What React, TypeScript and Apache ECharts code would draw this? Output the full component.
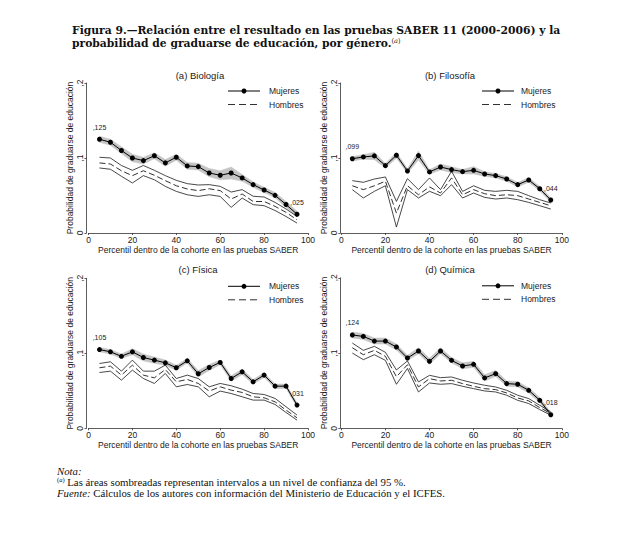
import React, { useEffect, useRef } from 'react';
import * as echarts from 'echarts';

// ---------- data ----------
const percentiles = [5, 10, 15, 20, 25, 30, 35, 40, 45, 50, 55, 60, 65, 70, 75, 80, 85, 90, 95];
const xTicks = [0, 20, 40, 60, 80, 100];
const yTicks = [0, 0.1, 0.2];

// (a) Biología
const bioMujeres = [0.125, 0.121, 0.110, 0.100, 0.0965, 0.103, 0.0935, 0.101, 0.0894, 0.0885, 0.080, 0.077, 0.080, 0.0734, 0.0645, 0.0573, 0.0502, 0.038, 0.025];
const bioMujeresUp = [0.129, 0.125, 0.115, 0.105, 0.101, 0.107, 0.098, 0.105, 0.094, 0.093, 0.086, 0.083, 0.088, 0.078, 0.068, 0.061, 0.054, 0.042, 0.029];
const bioMujeresLo = [0.121, 0.117, 0.106, 0.095, 0.092, 0.099, 0.089, 0.097, 0.085, 0.084, 0.075, 0.071, 0.072, 0.069, 0.061, 0.054, 0.047, 0.034, 0.022];
const bioHombres = [0.0934, 0.092, 0.083, 0.0765, 0.083, 0.077, 0.0698, 0.063, 0.0587, 0.0565, 0.059, 0.0565, 0.0453, 0.052, 0.042, 0.042, 0.0355, 0.0275, 0.0176];
const bioHombresUp = [0.101, 0.100, 0.090, 0.0836, 0.090, 0.0836, 0.0765, 0.0702, 0.0658, 0.064, 0.0645, 0.0622, 0.0546, 0.0578, 0.049, 0.048, 0.0408, 0.032, 0.022];
const bioHombresLo = [0.0867, 0.085, 0.0756, 0.0667, 0.0765, 0.071, 0.0622, 0.0555, 0.051, 0.0488, 0.051, 0.0488, 0.0342, 0.0466, 0.0378, 0.0364, 0.030, 0.022, 0.0132];

// (b) Filosofía
const filMujeres = [0.099, 0.1014, 0.1028, 0.0898, 0.1037, 0.0827, 0.1032, 0.0814, 0.088, 0.0845, 0.0818, 0.0836, 0.0787, 0.0765, 0.072, 0.0645, 0.0707, 0.059, 0.044];
const filMujeresUp = [0.102, 0.1044, 0.1078, 0.0928, 0.1077, 0.0857, 0.1092, 0.0844, 0.092, 0.0885, 0.0848, 0.0886, 0.0817, 0.0795, 0.075, 0.0675, 0.0737, 0.062, 0.047];
const filMujeresLo = [0.096, 0.0984, 0.0978, 0.0868, 0.0997, 0.0797, 0.0972, 0.0784, 0.084, 0.0805, 0.0788, 0.0786, 0.0757, 0.0735, 0.069, 0.0615, 0.0677, 0.056, 0.041];
const filHombres = [0.063, 0.0578, 0.063, 0.069, 0.0266, 0.063, 0.051, 0.0615, 0.0533, 0.0734, 0.051, 0.0578, 0.0524, 0.0498, 0.051, 0.0498, 0.0453, 0.0408, 0.0364];
const filHombresUp = [0.0698, 0.0676, 0.072, 0.0747, 0.0422, 0.0725, 0.0578, 0.0734, 0.0578, 0.0823, 0.0555, 0.063, 0.0569, 0.0555, 0.0569, 0.0555, 0.0498, 0.0444, 0.040];
const filHombresLo = [0.0578, 0.0467, 0.0556, 0.063, 0.0079, 0.0578, 0.0467, 0.0556, 0.0497, 0.0645, 0.0467, 0.0533, 0.0475, 0.0453, 0.0467, 0.0444, 0.0408, 0.0364, 0.0319];

// (c) Física
const fisMujeres = [0.105, 0.102, 0.096, 0.102, 0.0944, 0.0909, 0.0873, 0.0807, 0.090, 0.0727, 0.0811, 0.0878, 0.0664, 0.0753, 0.062, 0.0709, 0.0562, 0.0562, 0.031];
const fisMujeresUp = [0.108, 0.105, 0.099, 0.106, 0.099, 0.095, 0.091, 0.084, 0.093, 0.077, 0.085, 0.091, 0.070, 0.079, 0.065, 0.074, 0.059, 0.059, 0.034];
const fisMujeresLo = [0.102, 0.099, 0.093, 0.098, 0.0898, 0.0868, 0.0836, 0.0774, 0.087, 0.0684, 0.0772, 0.0846, 0.0628, 0.0716, 0.059, 0.0678, 0.0532, 0.0532, 0.028];
const fisHombres = [0.0807, 0.0829, 0.0709, 0.0842, 0.0709, 0.0673, 0.0784, 0.062, 0.0651, 0.0598, 0.0496, 0.0553, 0.0509, 0.0478, 0.042, 0.0407, 0.0353, 0.0242, 0.014];
const fisHombresUp = [0.0864, 0.0887, 0.0762, 0.0909, 0.0762, 0.0762, 0.0842, 0.0664, 0.0709, 0.0664, 0.0553, 0.0598, 0.0567, 0.0522, 0.0464, 0.0451, 0.0398, 0.0287, 0.0176];
const fisHombresLo = [0.0744, 0.0762, 0.0642, 0.0776, 0.0664, 0.0598, 0.0731, 0.0553, 0.0584, 0.0553, 0.042, 0.0496, 0.0464, 0.042, 0.0376, 0.0376, 0.0318, 0.0211, 0.0109];

// (d) Química
const quiMujeres = [0.124, 0.1221, 0.1159, 0.1159, 0.108, 0.0934, 0.1027, 0.089, 0.1027, 0.0903, 0.0828, 0.085, 0.0669, 0.0726, 0.0594, 0.0585, 0.0505, 0.0372, 0.018];
const quiMujeresUp = [0.128, 0.126, 0.120, 0.120, 0.112, 0.097, 0.107, 0.093, 0.107, 0.094, 0.087, 0.089, 0.071, 0.077, 0.063, 0.062, 0.054, 0.041, 0.021];
const quiMujeresLo = [0.120, 0.118, 0.112, 0.112, 0.104, 0.090, 0.099, 0.085, 0.099, 0.087, 0.079, 0.081, 0.063, 0.069, 0.056, 0.055, 0.047, 0.034, 0.015];
const quiHombres = [0.1071, 0.0978, 0.1036, 0.0957, 0.0685, 0.0845, 0.055, 0.066, 0.0629, 0.0638, 0.0594, 0.0558, 0.0527, 0.0514, 0.047, 0.0403, 0.0364, 0.0275, 0.0196];
const quiHombresUp = [0.1133, 0.1036, 0.1089, 0.101, 0.0775, 0.0895, 0.0616, 0.0704, 0.0673, 0.0682, 0.0638, 0.0602, 0.0572, 0.0549, 0.0505, 0.0439, 0.0395, 0.0306, 0.0218];
const quiHombresLo = [0.1, 0.0912, 0.0978, 0.0903, 0.0585, 0.0795, 0.0483, 0.0602, 0.0585, 0.0594, 0.0558, 0.0527, 0.0496, 0.0483, 0.0439, 0.0372, 0.0329, 0.0249, 0.0174];

const panelTitles = ['(a) Biología', '(b) Filosofía', '(c) Física', '(d) Química'];
const legendNames = ['Mujeres', 'Hombres'];
const xAxisName = 'Percentil dentro de la cohorte en las pruebas SABER';
const yAxisName = 'Probabilidad de graduarse de educación';
const figTitle1 = 'Figura 9.—Relación entre el resultado en las pruebas SABER 11 (2000-2006) y la';
const figTitle2 = 'probabilidad de graduarse de educación, por género.';
const noteLines = [
  'Nota:',
  'Las áreas sombreadas representan intervalos a un nivel de confianza del 95 %.',
  'Fuente:',
  'Cálculos de los autores con información del Ministerio de Educación y el ICFES.',
];

const panelData = [
  { m: bioMujeres, mu: bioMujeresUp, ml: bioMujeresLo, h: bioHombres, hu: bioHombresUp, hl: bioHombresLo },
  { m: filMujeres, mu: filMujeresUp, ml: filMujeresLo, h: filHombres, hu: filHombresUp, hl: filHombresLo },
  { m: fisMujeres, mu: fisMujeresUp, ml: fisMujeresLo, h: fisHombres, hu: fisHombresUp, hl: fisHombresLo },
  { m: quiMujeres, mu: quiMujeresUp, ml: quiMujeresLo, h: quiHombres, hu: quiHombresUp, hl: quiHombresLo },
];

// ---------- layout ----------
const SANS = '"Liberation Sans", Arial, Helvetica, sans-serif';
const SERIF = '"Liberation Serif", "Times New Roman", serif';
const TITLE_SERIF = '"DejaVu Serif", "Liberation Serif", serif';
const panelBoxes = [
  { left: 88.5, top: 83, width: 219.5, height: 150, yOffset: 2, titleX: 200, titleY: 75, legX: 228, legTextX: 269 },
  { left: 341.3, top: 83, width: 220.5, height: 150, yOffset: 1, titleX: 450, titleY: 75, legX: 482, legTextX: 521 },
  { left: 88.5, top: 278.3, width: 219.5, height: 150, yOffset: 2, titleX: 198, titleY: 269.5, legX: 228, legTextX: 269 },
  { left: 341.3, top: 277.8, width: 220.5, height: 150.5, yOffset: 1, titleX: 450, titleY: 269.5, legX: 482, legTextX: 521 },
];

const INK = '#1a1a1a';
const BAND = '#c4c4c4';
const TITLE_SIZE = 10.75;
const NOTE_SIZE = 10.8;

function buildOption() {
  const series: any[] = [];
  const graphic: any[] = [];

  panelData.forEach((d, i) => {
    const lastIdx = percentiles.length - 1;
    const labelStyle = {
      show: true,
      position: 'top',
      distance: 6,
      fontSize: 7,
      color: INK,
      fontFamily: SANS,
      formatter: (p: any) => ',' + Number(p.value[1]).toFixed(3).slice(2),
    };
    // CI band (Mujeres) as one polygon through the axis scales
    series.push({
      type: 'custom',
      xAxisIndex: i,
      yAxisIndex: i,
      data: percentiles.map((p, k) => [p, d.ml[k], d.mu[k]]),
      encode: { x: 0, y: [1, 2] },
      silent: true,
      z: 1,
      renderItem: (params: any, api: any) => {
        if (params.dataIndex !== 0) return null;
        const top = percentiles.map((p, k) => api.coord([p, d.mu[k]]));
        const bottom = percentiles.map((p, k) => api.coord([p, d.ml[k]])).reverse();
        return {
          type: 'polygon',
          shape: { points: top.concat(bottom) },
          style: { fill: BAND, stroke: BAND, lineWidth: 0.5 },
        };
      },
    });
    // Hombres CI lines
    [d.hu, d.hl].forEach((arr) => {
      series.push({
        type: 'line',
        xAxisIndex: i,
        yAxisIndex: i,
        data: percentiles.map((p, k) => [p, arr[k]]),
        symbol: 'none',
        lineStyle: { color: INK, width: 0.8 },
        silent: true,
        z: 2,
      });
    });
    // Hombres point estimate (dashed)
    series.push({
      type: 'line',
      name: legendNames[1],
      xAxisIndex: i,
      yAxisIndex: i,
      data: percentiles.map((p, k) => [p, d.h[k]]),
      symbol: 'none',
      lineStyle: { color: INK, width: 0.9, type: [6, 3] },
      silent: true,
      z: 3,
    });
    // Mujeres point estimate
    series.push({
      type: 'line',
      name: legendNames[0],
      xAxisIndex: i,
      yAxisIndex: i,
      data: percentiles.map((p, k) => {
        const item: any = { value: [p, d.m[k]] };
        if (k === 0 || k === lastIdx) item.label = labelStyle;
        return item;
      }),
      symbol: 'circle',
      symbolSize: 5,
      itemStyle: { color: '#000' },
      lineStyle: { color: '#000', width: 1 },
      silent: true,
      z: 4,
    });

    const b = panelBoxes[i];
    graphic.push({
      type: 'text',
      x: b.titleX,
      y: b.titleY,
      z: 100,
      style: { text: panelTitles[i], fontSize: 9.5, fontFamily: SANS, fill: INK, align: 'center', verticalAlign: 'middle' },
    });
    const y1 = b.top + 8;
    const y2 = b.top + 21.5;
    graphic.push({
      type: 'line',
      z: 100,
      shape: { x1: b.legX, y1, x2: b.legX + 32, y2: y1 },
      style: { stroke: '#000', lineWidth: 1 },
    });
    graphic.push({
      type: 'circle',
      z: 101,
      shape: { cx: b.legX + 16, cy: y1, r: 2.5 },
      style: { fill: '#000' },
    });
    graphic.push({
      type: 'line',
      z: 100,
      shape: { x1: b.legX, y1: y2, x2: b.legX + 32, y2 },
      style: { stroke: INK, lineWidth: 0.9, lineDash: [7, 4] },
    });
    graphic.push({
      type: 'text',
      x: b.legTextX,
      y: y1,
      z: 100,
      style: { text: legendNames[0], fontSize: 8.5, fontFamily: SANS, fill: INK, align: 'left', verticalAlign: 'middle' },
    });
    graphic.push({
      type: 'text',
      x: b.legTextX,
      y: y2,
      z: 100,
      style: { text: legendNames[1], fontSize: 8.5, fontFamily: SANS, fill: INK, align: 'left', verticalAlign: 'middle' },
    });
  });

  // Figure title (two lines) and notes
  const tStyle = { fontFamily: TITLE_SERIF, fontWeight: 'bold', fontSize: TITLE_SIZE, fill: '#111', align: 'left', verticalAlign: 'middle' };
  graphic.push({ type: 'text', x: 72, y: 30.7, z: 100, style: { ...tStyle, text: figTitle1 } });
  graphic.push({
    type: 'text',
    x: 72,
    y: 43.3,
    z: 100,
    style: {
      ...tStyle,
      text: '{b|' + figTitle2 + '}{s|(}{si|a}{s|)}',
      rich: {
        b: { fontFamily: TITLE_SERIF, fontWeight: 'bold', fontSize: TITLE_SIZE, fill: '#111', lineHeight: 11 },
        s: { fontFamily: TITLE_SERIF, fontWeight: 'normal', fontSize: 6.5, fill: '#111', verticalAlign: 'top' },
        si: { fontFamily: TITLE_SERIF, fontWeight: 'normal', fontStyle: 'italic', fontSize: 6.5, fill: '#111', verticalAlign: 'top' },
      },
    },
  });
  const nStyle = { fontFamily: SERIF, fontSize: NOTE_SIZE, fill: '#111', align: 'left', verticalAlign: 'middle' };
  graphic.push({ type: 'text', x: 57, y: 470.5, z: 100, style: { ...nStyle, fontStyle: 'italic', text: noteLines[0] } });
  graphic.push({
    type: 'text',
    x: 57,
    y: 481.5,
    z: 100,
    style: {
      ...nStyle,
      text: '{s|(}{si|a}{s|)} {r|' + noteLines[1] + '}',
      rich: {
        r: { fontFamily: SERIF, fontSize: NOTE_SIZE, fill: '#111', lineHeight: 10 },
        s: { fontFamily: SERIF, fontSize: 6.5, fill: '#111', verticalAlign: 'top' },
        si: { fontFamily: SERIF, fontStyle: 'italic', fontSize: 6.5, fill: '#111', verticalAlign: 'top' },
      },
    },
  });
  graphic.push({
    type: 'text',
    x: 57,
    y: 492.5,
    z: 100,
    style: {
      ...nStyle,
      text: '{i|' + noteLines[2] + '} {r|' + noteLines[3] + '}',
      rich: {
        i: { fontFamily: SERIF, fontStyle: 'italic', fontSize: NOTE_SIZE, fill: '#111' },
        r: { fontFamily: SERIF, fontSize: NOTE_SIZE, fill: '#111' },
      },
    },
  });

  const axisLineStyle = { color: '#333', width: 0.8 };

  return {
    animation: false,
    backgroundColor: '#ffffff',
    grid: panelBoxes.map((b) => ({ left: b.left, top: b.top, width: b.width, height: b.height, containLabel: false })),
    xAxis: panelBoxes.map((b, i) => ({
      gridIndex: i,
      type: 'value',
      min: xTicks[0],
      max: xTicks[xTicks.length - 1],
      interval: xTicks[1] - xTicks[0],
      name: xAxisName,
      nameLocation: 'middle',
      nameGap: 12,
      nameTextStyle: { fontSize: 8.5, color: INK, fontFamily: SANS },
      axisLine: { show: true, onZero: false, lineStyle: axisLineStyle },
      axisTick: { show: true, length: 2, lineStyle: axisLineStyle },
      axisLabel: { fontSize: 8.5, margin: 2, color: INK, fontFamily: SANS },
      splitLine: { show: false },
    })),
    yAxis: panelBoxes.map((b, i) => ({
      gridIndex: i,
      type: 'value',
      min: yTicks[0],
      max: yTicks[yTicks.length - 1],
      interval: yTicks[1] - yTicks[0],
      offset: b.yOffset,
      name: yAxisName,
      nameLocation: 'middle',
      nameGap: 10,
      nameTextStyle: { fontSize: 8.5, color: INK, fontFamily: SANS },
      axisLine: { show: true, onZero: false, lineStyle: axisLineStyle },
      axisTick: { show: true, length: 2, lineStyle: axisLineStyle },
      axisLabel: {
        fontSize: 8.5,
        margin: 2,
        rotate: 90,
        color: INK,
        fontFamily: SANS,
        formatter: (v: number) => (v === 0 ? '0' : ',' + String(Math.round(v * 10))),
      },
      splitLine: { show: false },
    })),
    series,
    graphic,
  };
}

export default function App() {
  const ref = useRef<HTMLDivElement>(null);
  useEffect(() => {
    if (!ref.current) return;
    const chart = echarts.init(ref.current, undefined, { renderer: 'svg' });
    chart.setOption(buildOption() as any);
    return () => chart.dispose();
  }, []);
  return (
    <div
      ref={ref}
      style={{ position: 'absolute', left: 0, top: 0, width: 629, height: 541, background: '#fff' }}
    />
  );
}
